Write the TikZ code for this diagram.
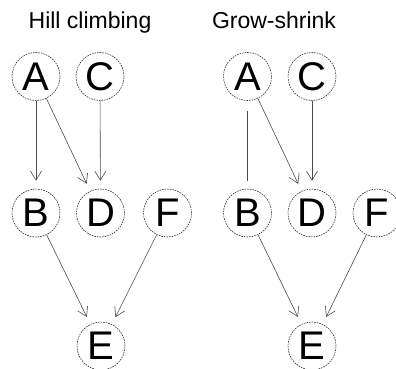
\documentclass[tikz,border=0pt]{standalone}
\usepackage{fontspec}
\setmainfont{Liberation Sans}
\usetikzlibrary{arrows.meta}
\tikzset{
  vnode/.style={circle, draw=black!85, dash pattern=on 1.6pt off 1pt, line width=0.55pt,
    minimum size=48pt, inner sep=0pt, font=\fontsize{40}{40}\selectfont},
  dedge/.style={draw=black!70, line width=0.6pt, -{Straight Barb[length=9pt,width=11pt,line width=0.6pt]}, shorten >=8pt},
  uedge/.style={draw=black!70, line width=0.6pt, shorten <=10pt, shorten >=8pt},
  ttl/.style={font=\fontsize{23}{23}\selectfont, anchor=base}
}
\begin{document}
\begin{tikzpicture}[x=1pt,y=-1pt]
\useasboundingbox (0,0) rectangle (396,369);
\clip (0,0) rectangle (396,369);
\fill[white] (0,0) rectangle (396,369);
% titles
\node[ttl] (t1) at (90,29) {Hill climbing};
\node[ttl] (t2) at (274,29) {Grow-shrink};
% left panel
\node[vnode] (lA) at (36,76.5) {A};
\node[vnode] (lC) at (100,76.5) {C};
\node[vnode] (lB) at (36,213) {B};
\node[vnode] (lD) at (100.5,213) {D};
\node[vnode] (lF) at (167.5,213) {F};
\node[vnode] (lE) at (101,346) {E};
\draw[dedge] (lA) -- (lB);
\draw[dedge] (lA) -- (lD);
\draw[dedge] (lC) -- (lD);
\draw[dedge] (lB) -- (lE);
\draw[dedge] (lF) -- (lE);
% right panel
\node[vnode] (rA) at (247.5,76.5) {A};
\node[vnode] (rC) at (312,76.5) {C};
\node[vnode] (rB) at (247.5,213) {B};
\node[vnode] (rD) at (312,213) {D};
\node[vnode] (rF) at (377,213) {F};
\node[vnode] (rE) at (312,346) {E};
\draw[uedge] (rA) -- (rB);
\draw[dedge] (rA) -- (rD);
\draw[dedge] (rC) -- (rD);
\draw[dedge] (rB) -- (rE);
\draw[dedge] (rF) -- (rE);
\end{tikzpicture}
\end{document}
